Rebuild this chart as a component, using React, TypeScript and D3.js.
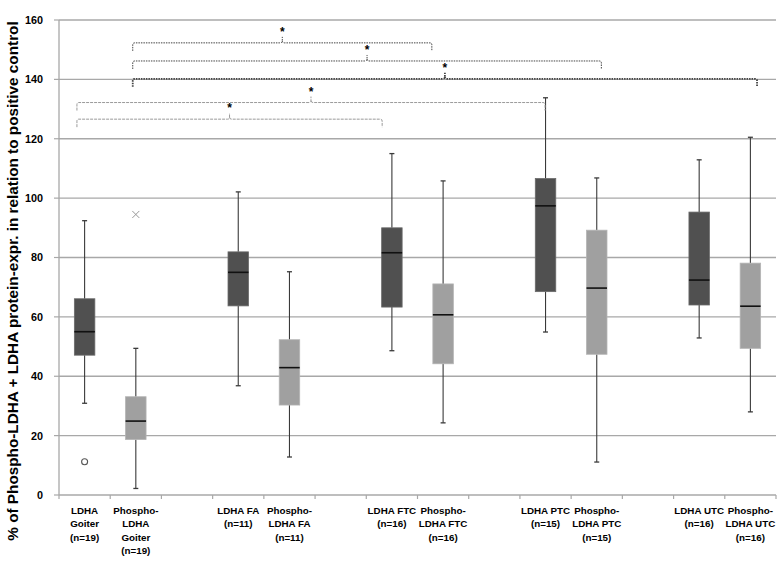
import React from "react";
import * as d3 from "d3";

const slots = [
  "LDHA Goiter", "Phospho-LDHA Goiter", "gap1",
  "LDHA FA", "Phospho-LDHA FA", "gap2",
  "LDHA FTC", "Phospho-LDHA FTC", "gap3",
  "LDHA PTC", "Phospho-LDHA PTC", "gap4",
  "LDHA UTC", "Phospho-LDHA UTC",
];
const groups = [
  "LDHA Goiter", "Phospho-LDHA Goiter", "LDHA FA", "Phospho-LDHA FA",
  "LDHA FTC", "Phospho-LDHA FTC", "LDHA PTC", "Phospho-LDHA PTC",
  "LDHA UTC", "Phospho-LDHA UTC",
];
const groupKind = ["total", "phospho", "total", "phospho", "total", "phospho", "total", "phospho", "total", "phospho"];
const whiskerLow = [30.9, 2.2, 36.8, 12.8, 48.6, 24.3, 54.9, 11.1, 52.9, 28.0];
const q1 = [47.1, 18.7, 63.7, 30.3, 63.3, 44.2, 68.5, 47.4, 64.0, 49.4];
const medians = [55.0, 24.9, 75.0, 42.9, 81.6, 60.7, 97.4, 69.7, 72.4, 63.6];
const q3 = [66.1, 33.1, 81.9, 52.3, 90.0, 71.1, 106.6, 89.2, 95.3, 78.1];
const whiskerHigh = [92.4, 49.4, 102.1, 75.2, 115.0, 105.8, 133.8, 106.8, 112.9, 120.5];

const outlierGroups = ["LDHA Goiter", "Phospho-LDHA Goiter"];
const outlierValues = [11.2, 94.5];
const outlierShapes = ["circle", "cross"];

const labelLines: string[][] = [
  ["LDHA", "Goiter", "(n=19)"],
  ["Phospho-", "LDHA", "Goiter", "(n=19)"],
  [],
  ["LDHA FA", "(n=11)"],
  ["Phospho-", "LDHA FA", "(n=11)"],
  [],
  ["LDHA FTC", "(n=16)"],
  ["Phospho-", "LDHA FTC", "(n=16)"],
  [],
  ["LDHA PTC", "(n=15)"],
  ["Phospho-", "LDHA PTC", "(n=15)"],
  [],
  ["LDHA UTC", "(n=16)"],
  ["Phospho-", "LDHA UTC", "(n=16)"],
];

const yTicks = [0, 20, 40, 60, 80, 100, 120, 140, 160];

// significance brackets: ends in slot units (0 = left edge of first slot), level in data units
const bracketFrom = [1.44, 1.44, 1.44, 0.35, 0.35];
const bracketTo = [7.28, 10.59, 13.63, 9.49, 6.31];
const bracketLevel = [152.3, 146.2, 140.2, 132.2, 126.6];
const bracketStyle = ["dark", "dark", "heavy", "light", "light"];

const W = 778;
const H = 573;
const left = 59;
const right = 776;
const top = 20;
const bottom = 495;

export default function App() {
  const x = d3.scaleBand<string>().domain(slots).range([left, right]).padding(0);
  const pos = d3.scaleLinear().domain([0, slots.length]).range([left, right]);
  const y = d3.scaleLinear().domain([0, 160]).range([bottom, top]);
  const bw = x.bandwidth();
  const boxW = bw * 0.4;
  const capW = 5;
  const font = "'Liberation Sans', Arial, sans-serif";

  return (
    <svg width={W} height={H} style={{ position: "absolute", left: 0, top: 0, background: "#fff" }}>
      <rect width={W} height={H} fill="#fff" />
      {/* gridlines */}
      {yTicks.filter((t) => t > 0).map((t) => (
        <line key={"g" + t} x1={left} x2={right} y1={y(t)} y2={y(t)} stroke="#a8a8a8" strokeWidth={1.3} />
      ))}
      {/* axes */}
      <line x1={left} x2={left} y1={top} y2={bottom} stroke="#a8a8a8" strokeWidth={1.3} />
      <line x1={left} x2={right} y1={bottom} y2={bottom} stroke="#a8a8a8" strokeWidth={1.3} />
      {yTicks.map((t) => (
        <g key={"yt" + t}>
          <line x1={left - 5} x2={left} y1={y(t)} y2={y(t)} stroke="#a8a8a8" strokeWidth={1.2} />
          <text x={43} y={y(t)} dy="0.36em" textAnchor="end" fontFamily={font} fontWeight="bold" fontSize={10.8} fill="#000">
            {t}
          </text>
        </g>
      ))}
      {d3.range(slots.length + 1).map((i) => (
        <line key={"xt" + i} x1={pos(i)} x2={pos(i)} y1={bottom} y2={bottom + 4} stroke="#a8a8a8" strokeWidth={1.2} />
      ))}
      {/* x labels */}
      {slots.map((s, i) => (
        <text key={"xl" + s} textAnchor="middle" fontFamily={font} fontWeight="bold" fontSize={9.8} fill="#000">
          {labelLines[i].map((ln, j) => (
            <tspan key={j} x={(x(s) as number) + bw / 2} y={513.5 + j * 13.5}>
              {ln}
            </tspan>
          ))}
        </text>
      ))}
      {/* y label */}
      <text
        transform={`translate(18,281) rotate(-90)`}
        textAnchor="middle"
        fontFamily={font}
        fontWeight="bold"
        fontSize={15.3}
        fill="#000"
      >
        % of Phospho-LDHA + LDHA protein-expr. in relation to positive control
      </text>
      {/* boxes */}
      {groups.map((g, i) => {
        const cx = (x(g) as number) + bw / 2;
        const fill = groupKind[i] === "total" ? "#505050" : "#a0a0a0";
        return (
          <g key={"b" + g}>
            <line x1={cx} x2={cx} y1={y(whiskerHigh[i])} y2={y(q3[i])} stroke="#3a3a3a" strokeWidth={1.1} />
            <line x1={cx} x2={cx} y1={y(q1[i])} y2={y(whiskerLow[i])} stroke="#3a3a3a" strokeWidth={1.1} />
            <line x1={cx - capW / 2} x2={cx + capW / 2} y1={y(whiskerHigh[i])} y2={y(whiskerHigh[i])} stroke="#3a3a3a" strokeWidth={1.3} />
            <line x1={cx - capW / 2} x2={cx + capW / 2} y1={y(whiskerLow[i])} y2={y(whiskerLow[i])} stroke="#3a3a3a" strokeWidth={1.3} />
            <rect x={cx - boxW / 2} y={y(q3[i])} width={boxW} height={y(q1[i]) - y(q3[i])} fill={fill} stroke={groupKind[i] === "total" ? "#6a6a6a" : "#b4b4b4"} strokeWidth={0.8} />
            <line x1={cx - boxW / 2} x2={cx + boxW / 2} y1={y(medians[i])} y2={y(medians[i])} stroke="#111" strokeWidth={1.6} />
          </g>
        );
      })}
      {/* outliers */}
      {outlierGroups.map((g, i) => {
        const cx = (x(g) as number) + bw / 2;
        const cy = y(outlierValues[i]);
        if (outlierShapes[i] === "circle") {
          return <circle key={"o" + i} cx={cx} cy={cy} r={3} fill="none" stroke="#555" strokeWidth={1.1} />;
        }
        return (
          <g key={"o" + i} stroke="#999" strokeWidth={1}>
            <line x1={cx - 3.5} x2={cx + 3.5} y1={cy - 3.5} y2={cy + 3.5} />
            <line x1={cx - 3.5} x2={cx + 3.5} y1={cy + 3.5} y2={cy - 3.5} />
          </g>
        );
      })}
      {/* significance brackets */}
      {bracketLevel.map((lv, i) => {
        const x1 = pos(bracketFrom[i]);
        const x2 = pos(bracketTo[i]);
        const ly = y(lv);
        const mx = (x1 + x2) / 2;
        const st = bracketStyle[i];
        const color = st === "light" ? "#9a9a9a" : "#444";
        const dash = st === "light" ? "3,1" : "1.5,1";
        const sw = st === "heavy" ? 1.8 : 1;
        const path = `M${x1},${ly + 8} L${x1},${ly + 2} Q${x1},${ly} ${x1 + 2},${ly} L${mx - 2},${ly} Q${mx},${ly} ${mx},${ly - 2} L${mx},${ly - 6} M${mx},${ly - 2} Q${mx},${ly} ${mx + 2},${ly} L${x2 - 2},${ly} Q${x2},${ly} ${x2},${ly + 2} L${x2},${ly + 8}`;
        return (
          <g key={"br" + i}>
            <path d={path} fill="none" stroke={color} strokeWidth={sw} strokeDasharray={dash} />
            <text x={mx} y={ly - 7} textAnchor="middle" fontFamily={font} fontWeight="bold" fontSize={12} fill="#000">
              *
            </text>
          </g>
        );
      })}
    </svg>
  );
}
